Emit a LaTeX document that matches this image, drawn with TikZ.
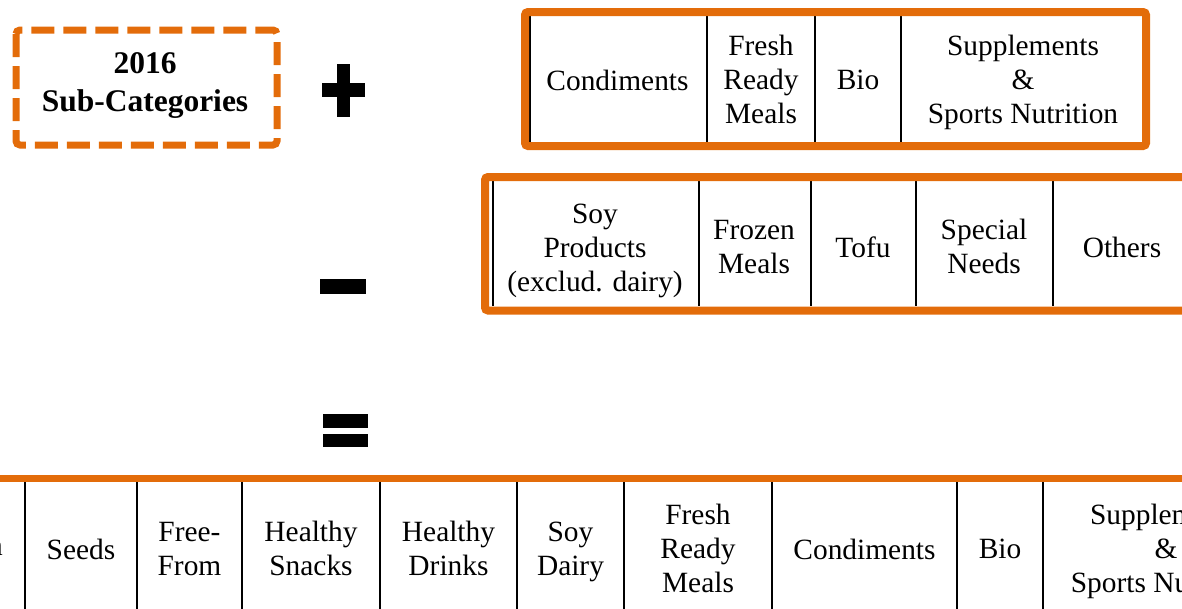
\documentclass[tikz,border=0pt]{standalone}
\usepackage{fontspec}
\setmainfont{Liberation Serif}
\definecolor{orng}{HTML}{E36C0A}
\begin{document}
\begin{tikzpicture}[x=1pt,y=-1pt,
  cell/.style={align=center,font=\fontsize{29.4}{34}\selectfont,inner sep=0pt},
  head/.style={align=center,font=\bfseries\fontsize{31.5}{38}\selectfont,inner sep=0pt},
  frame/.style={draw=orng,line width=8pt,rounded corners=3pt},
  div/.style={line width=1.8pt},
  sym/.style={fill=black}]
\useasboundingbox (0,0) rectangle (1182,608);
\clip (0,0) rectangle (1182,608);

% header
\draw[orng, line width=7pt, dash pattern=on 23pt off 9pt, rounded corners=4pt] (16,30) rectangle (277,145);
\node[head] (hdr) at (145,85) {2016\\Sub-Categories};

% symbols
\fill[sym] (322,83) rectangle (365,97);
\fill[sym] (337,64) rectangle (350,117);
\fill[sym] (320,279) rectangle (366,294);
\fill[sym] (323,414) rectangle (368,428);
\fill[sym] (323,434) rectangle (368,447);

% top table (+)
\draw[line width=1.5pt] (530,16) -- (530,142);
\foreach \x in {707,815,901} \draw[div] (\x,16) -- (\x,142);
\draw[frame] (525,12) rectangle (1146,146);
\node[cell] (p1) at (617.5,80) {Condiments};
\node[cell] (p2) at (761,79) {Fresh\\Ready\\Meals};
\node[cell] (p3) at (858,80) {Bio};
\node[cell] (p4) at (1023,82) {Supplements\\\&\\Sports Nutrition};

% second table (-)
\draw[line width=1.5pt] (493,181) -- (493,306);
\foreach \x in {699,811,916,1053} \draw[div] (\x,181) -- (\x,306);
\draw[frame] (485,177) rectangle (1200,310.5);
\node[cell] (m1) at (595,251) {Soy\\Products\\(exclud. dairy)};
\node[cell] (m2) at (754,247) {Frozen\\Meals};
\node[cell] (m3) at (863,247) {Tofu};
\node[cell] (m4) at (984,246.5) {Special\\Needs};
\node[cell] (m5) at (1122,247) {Others};

% bottom table (=)
\foreach \x in {25,137,242,380,517,624,772,957,1043} \draw[div] (\x,482) -- (\x,620);
\draw[orng, line width=7.3pt] (-5,478.7) -- (1190,478.7);
\node[cell, anchor=east] (r0) at (3,549) {n};
\node[cell] (r1) at (81,549) {Seeds};
\node[cell] (r2) at (189.5,549) {Free-\\From};
\node[cell] (r3) at (311,548.5) {Healthy\\Snacks};
\node[cell] (r4) at (448.5,548.5) {Healthy\\Drinks};
\node[cell] (r5) at (570.5,552) {Soy\\Dairy};
\node[cell] (r6) at (698,548) {Fresh\\Ready\\Meals};
\node[cell] (r7) at (864.5,549) {Condiments};
\node[cell] (r8) at (1000,549) {Bio};
\node[cell] (r9) at (1166,551) {Supplements\\\&\\Sports Nutrition};
\end{tikzpicture}
\end{document}
